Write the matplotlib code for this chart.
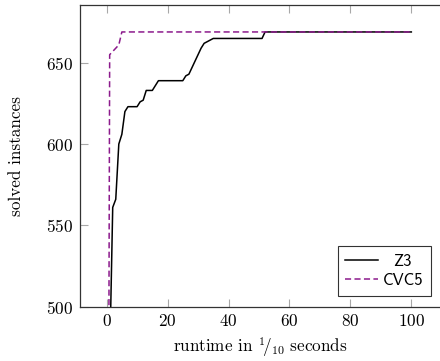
import matplotlib
matplotlib.use("Agg")
import matplotlib.pyplot as plt
from matplotlib.transforms import ScaledTranslation

# Cactus plot: cumulative solved instances over runtime (in 1/10 s)
z3_time = [0, 1, 2, 3, 4, 5, 6, 7, 10, 11, 12, 13, 15, 16, 17, 25, 26, 27,
           28, 29, 30, 31, 32, 33, 34, 35, 51, 52, 100]
z3_solved = [0, 466, 561, 566, 600, 606, 620, 623, 623, 626, 627, 633, 633,
             636, 639, 639, 642, 643, 647, 651, 655, 659, 662, 663, 664, 665,
             665, 669, 669]

cvc5_time = [0, 1, 2, 3, 4, 5, 100]
cvc5_solved = [0, 655, 657, 659, 661, 669, 669]

x_ticks = [0, 20, 40, 60, 80, 100]
y_ticks = [500, 550, 600, 650]

plt.rcParams["mathtext.fontset"] = "cm"
plt.rcParams["axes.formatter.use_mathtext"] = True

W, H = 440, 361
fig = plt.figure(figsize=(W / 100, H / 100), dpi=100)
left, right, top, bottom = 79.5, 441.5, 4.5, 306.5
ax = fig.add_axes([left / W, 1 - bottom / H, (right - left) / W, (bottom - top) / H])

ax.plot(z3_time, z3_solved, color="black", lw=1.1, label="Z3")
ax.plot(cvc5_time, cvc5_solved, color="#8c1a8c", lw=1.1,
        linestyle=(0, (4.0, 2.2)), label="CVC5")

ax.set_xlim(-8.9, 109.9)
ax.set_ylim(500, 685.9)
ax.set_xticks(x_ticks)
ax.set_yticks(y_ticks)

for s in ax.spines.values():
    s.set_color("#333333")
    s.set_linewidth(0.9)
ax.spines["right"].set_visible(False)

fs = 12.3
ax.tick_params(axis="both", direction="in", length=5.5, width=0.8,
               color="#a8a8a8", labelsize=fs, top=True, right=False)
ax.tick_params(axis="x", pad=5)
ax.tick_params(axis="y", pad=5)
for lab in ax.get_xticklabels() + ax.get_yticklabels():
    lab.set_fontfamily("cmr10")

ax.set_xlabel(r"runtime in $^{1}\!/_{10}$ seconds", fontfamily="cmr10",
              fontsize=fs, labelpad=4)
ax.set_ylabel("solved instances", fontfamily="cmr10", fontsize=fs,
              labelpad=15.5)

lfs = 12
leg = ax.legend(loc="lower right", bbox_to_anchor=(0.970, 0.036),
                prop={"family": "cmss10", "size": lfs}, frameon=True,
                fancybox=False, edgecolor="black", borderpad=0.45,
                handlelength=1.95, handletextpad=0.3, labelspacing=0.25,
                borderaxespad=0.0)
leg.get_frame().set_linewidth(0.8)

# center the legend labels within their column
fig.canvas.draw()
renderer = fig.canvas.get_renderer()
texts = leg.get_texts()
widths = [t.get_window_extent(renderer).width for t in texts]
wmax = max(widths)
for t, w in zip(texts, widths):
    dx = (wmax - w) / 2 / fig.dpi
    t.set_transform(t.get_transform() + ScaledTranslation(dx, 0, fig.dpi_scale_trans))

fig.savefig("out.png", dpi=100)
